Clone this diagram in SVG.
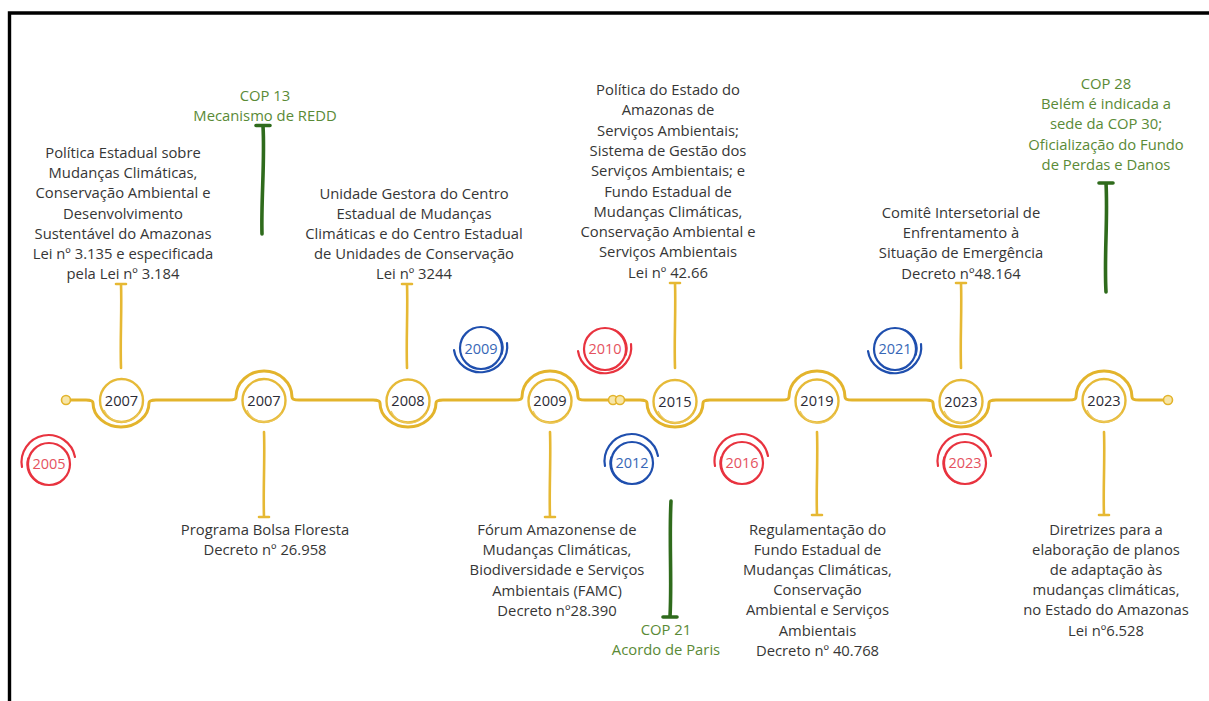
<svg xmlns="http://www.w3.org/2000/svg" width="1209" height="701" viewBox="0 0 1209 701">
<style>
.t{font-family:"Open Sans","Noto Sans",sans-serif;font-size:14.8px;fill:#363636;text-anchor:middle}
.gt{fill:#5a8a36}
.yr{font-size:14.6px;fill:#2b2b35}
.rt{font-size:14.5px;fill:#e5525e}
.bt{font-size:14.5px;fill:#3767b6}
.tl{fill:none;stroke:#e3b42c;stroke-width:3;stroke-linecap:round;stroke-linejoin:round}
.con{fill:none;stroke:#e6b833;stroke-width:2.6;stroke-linecap:round}
.gc{fill:none;stroke:#2f6b1c;stroke-width:3.6;stroke-linecap:round}
.nc{fill:#fff;stroke:#e6ba38;stroke-width:2.4}
.nc2{fill:none;stroke:#ecc75a;stroke-width:1.3}
.cap{fill:#f7e6a8;stroke:#e3b42c;stroke-width:1.6}
.red{fill:none;stroke:#e8333f;stroke-width:2.2;stroke-linecap:round}
.blue{fill:none;stroke:#1f4fae;stroke-width:2.2;stroke-linecap:round}
</style>
<defs>
<g id="ringDown">
<circle r="21"/>
<path d="M10,-19 A22,21 0 0 1 21,6" stroke-width="1.4"/>
<path d="M-27,2 A26,25 0 0 0 26,-5"/>
</g>
<g id="ringUp">
<circle r="21"/>
<path d="M-10,19 A22,21 0 0 1 -21,-6" stroke-width="1.4"/>
<path d="M-27,3 A26,26 0 0 1 26,-7"/>
</g>
</defs>

<path d="M9.5,701 V13 H1209" fill="none" stroke="#000" stroke-width="3.4"/>

<g id="connectors">
<path class="tl" d="M70,400 H86 Q93,400 93,403 A28,24 0 0 0 149,403 Q149,400 156,400 H229 Q236,400 236,397 A28,26 0 0 1 292,397 Q292,400 299,400 H373 Q380,400 380,403 A28,24 0 0 0 436,403 Q436,400 443,400 H515 Q522,400 522,397 A28,26 0 0 1 578,397 Q578,400 585,400 H609"/>
<path class="tl" d="M624,400 H640 Q647,400 647,403 A28,24 0 0 0 703,403 Q703,400 710,400 H782 Q789,400 789,397 A28,26 0 0 1 845,397 Q845,400 852,400 H926 Q933,400 933,403 A28,24 0 0 0 989,403 Q989,400 996,400 H1069 Q1076,400 1076,397 A28,26 0 0 1 1132,397 Q1132,400 1139,400 H1164"/>
<circle class="cap" cx="66" cy="400" r="4.5"/>
<circle class="cap" cx="613" cy="400" r="4.5"/>
<circle class="cap" cx="620" cy="400" r="4.5"/>
<circle class="cap" cx="1168" cy="400" r="4.5"/>
<path class="con" d="M121,284 C122,310 120,340 121,368 M116,284 H126"/>
<path class="con" d="M407,284 C408,310 406,340 407,368 M402,284 H412"/>
<path class="con" d="M675,283 C676,310 674,340 675,368 M670,283 H680"/>
<path class="con" d="M961,283 C962,310 960,340 961,368 M956,283 H966"/>
<path class="con" d="M264,432 C265,460 263,490 264,517 M259,517 H269"/>
<path class="con" d="M550,432 C551,460 549,490 550,517 M545,517 H555"/>
<path class="con" d="M817,432 C818,460 816,490 817,515 M812,515 H822"/>
<path class="con" d="M1104,432 C1105,460 1103,490 1104,515 M1099,515 H1109"/>
<path class="gc" d="M263,126 C265,160 261,200 262,234 M256,125.5 H270"/>
<path class="gc" d="M671,501 C669,540 672,580 670,617 M663,617 H677"/>
<path class="gc" d="M1106,183 C1108,220 1104,255 1106,292 M1099,183 H1113"/>
</g>

<g id="node-2007a">
<circle class="nc" cx="121.5" cy="400.5" r="21.5"/>
<path class="nc2" d="M104,410 A20,20 0 0 0 139,413"/>
<text class="t yr" x="121.5" y="405.5">2007</text>
<text class="t" x="123" y="158"><tspan x="123">Política Estadual sobre</tspan><tspan x="123" dy="20.2">Mudanças Climáticas,</tspan><tspan x="123" dy="20.2">Conservação Ambiental e</tspan><tspan x="123" dy="20.2">Desenvolvimento</tspan><tspan x="123" dy="20.2">Sustentável do Amazonas</tspan><tspan x="123" dy="20.2">Lei nº 3.135 e especificada</tspan><tspan x="123" dy="20.2">pela Lei nº 3.184</tspan></text>
</g>

<g id="node-2007b">
<circle class="nc" cx="264" cy="400.5" r="21.5"/>
<path class="nc2" d="M247,410 A20,20 0 0 0 282,413"/>
<text class="t yr" x="264" y="405.5">2007</text>
<text class="t" x="265" y="535"><tspan x="265">Programa Bolsa Floresta</tspan><tspan x="265" dy="20.2">Decreto nº 26.958</tspan></text>
</g>

<g id="node-2008">
<circle class="nc" cx="408" cy="401" r="21.5"/>
<path class="nc2" d="M391,411 A20,20 0 0 0 426,414"/>
<text class="t yr" x="408" y="406">2008</text>
<text class="t" x="414" y="198.5"><tspan x="414">Unidade Gestora do Centro</tspan><tspan x="414" dy="20.2">Estadual de Mudanças</tspan><tspan x="414" dy="20.2">Climáticas e do Centro Estadual</tspan><tspan x="414" dy="20.2">de Unidades de Conservação</tspan><tspan x="414" dy="20.2">Lei nº 3244</tspan></text>
</g>

<g id="node-2009">
<circle class="nc" cx="550" cy="401" r="21.5"/>
<path class="nc2" d="M533,411 A20,20 0 0 0 568,414"/>
<text class="t yr" x="550" y="406">2009</text>
<text class="t" x="557" y="535"><tspan x="557">Fórum Amazonense de</tspan><tspan x="557" dy="20.2">Mudanças Climáticas,</tspan><tspan x="557" dy="20.2">Biodiversidade e Serviços</tspan><tspan x="557" dy="20.2">Ambientais (FAMC)</tspan><tspan x="557" dy="20.2">Decreto nº28.390</tspan></text>
</g>

<g id="node-2015">
<circle class="nc" cx="675" cy="401.5" r="21.5"/>
<path class="nc2" d="M658,411 A20,20 0 0 0 693,414"/>
<text class="t yr" x="675" y="406.5">2015</text>
<text class="t" x="668" y="95"><tspan x="668">Política do Estado do</tspan><tspan x="668" dy="20.3">Amazonas de</tspan><tspan x="668" dy="20.3">Serviços Ambientais;</tspan><tspan x="668" dy="20.3">Sistema de Gestão dos</tspan><tspan x="668" dy="20.3">Serviços Ambientais; e</tspan><tspan x="668" dy="20.3">Fundo Estadual de</tspan><tspan x="668" dy="20.3">Mudanças Climáticas,</tspan><tspan x="668" dy="20.3">Conservação Ambiental e</tspan><tspan x="668" dy="20.3">Serviços Ambientais</tspan><tspan x="668" dy="20.3">Lei nº 42.66</tspan></text>
</g>

<g id="node-2019">
<circle class="nc" cx="817" cy="401" r="21.5"/>
<path class="nc2" d="M800,411 A20,20 0 0 0 835,414"/>
<text class="t yr" x="817" y="406">2019</text>
<text class="t" x="817.5" y="534.5"><tspan x="817.5">Regulamentação do</tspan><tspan x="817.5" dy="20.2">Fundo Estadual de</tspan><tspan x="817.5" dy="20.2">Mudanças Climáticas,</tspan><tspan x="817.5" dy="20.2">Conservação</tspan><tspan x="817.5" dy="20.2">Ambiental e Serviços</tspan><tspan x="817.5" dy="20.2">Ambientais</tspan><tspan x="817.5" dy="20.2">Decreto nº  40.768</tspan></text>
</g>

<g id="node-2023a">
<circle class="nc" cx="961" cy="401.5" r="21.5"/>
<path class="nc2" d="M944,411 A20,20 0 0 0 979,414"/>
<text class="t yr" x="961" y="406.5">2023</text>
<text class="t" x="961" y="218"><tspan x="961">Comitê Intersetorial de</tspan><tspan x="961" dy="20.2">Enfrentamento à</tspan><tspan x="961" dy="20.2">Situação de Emergência</tspan><tspan x="961" dy="20.2">Decreto nº48.164</tspan></text>
</g>

<g id="node-2023b">
<circle class="nc" cx="1104" cy="400.5" r="21.5"/>
<path class="nc2" d="M1087,410 A20,20 0 0 0 1122,413"/>
<text class="t yr" x="1104" y="405.5">2023</text>
<text class="t" x="1106" y="534.5"><tspan x="1106">Diretrizes para a</tspan><tspan x="1106" dy="20.2">elaboração de planos</tspan><tspan x="1106" dy="20.2">de adaptação às</tspan><tspan x="1106" dy="20.2">mudanças climáticas,</tspan><tspan x="1106" dy="20.2">no Estado do Amazonas</tspan><tspan x="1106" dy="20.2">Lei nº6.528</tspan></text>
</g>

<g id="cop13">
<text class="t gt" x="265" y="100.7"><tspan x="265">COP 13</tspan><tspan x="265" dy="20">Mecanismo de REDD</tspan></text>
</g>
<g id="cop21">
<text class="t gt" x="666" y="635"><tspan x="666">COP 21</tspan><tspan x="666" dy="20">Acordo de Paris</tspan></text>
</g>
<g id="cop28">
<text class="t gt" x="1106" y="88.5"><tspan x="1106">COP 28</tspan><tspan x="1106" dy="20.4">Belém é indicada a</tspan><tspan x="1106" dy="20.4">sede da COP 30;</tspan><tspan x="1106" dy="20.4">Oficialização do Fundo</tspan><tspan x="1106" dy="20.4">de Perdas e Danos</tspan></text>
</g>

<g id="mark-2005"><use href="#ringUp" class="red" transform="translate(49,464)"/><text class="t rt" x="49" y="469">2005</text></g>
<g id="mark-2009"><use href="#ringDown" class="blue" transform="translate(481,348)"/><text class="t bt" x="481" y="353.5">2009</text></g>
<g id="mark-2010"><use href="#ringDown" class="red" transform="translate(605,349)"/><text class="t rt" x="605" y="354">2010</text></g>
<g id="mark-2012"><use href="#ringUp" class="blue" transform="translate(632,463)"/><text class="t bt" x="632" y="468">2012</text></g>
<g id="mark-2016"><use href="#ringUp" class="red" transform="translate(742,463)"/><text class="t rt" x="742" y="468">2016</text></g>
<g id="mark-2021"><use href="#ringDown" class="blue" transform="translate(895,349)"/><text class="t bt" x="895" y="354">2021</text></g>
<g id="mark-2023"><use href="#ringUp" class="red" transform="translate(965,463)"/><text class="t rt" x="965" y="468">2023</text></g>
</svg>
